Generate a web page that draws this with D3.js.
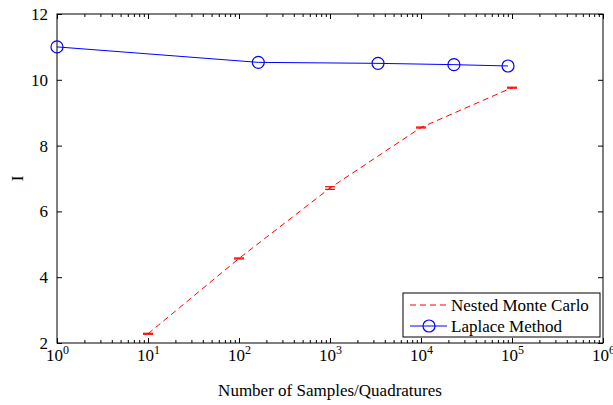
<!DOCTYPE html>
<html>
<head>
<meta charset="utf-8">
<script src="https://cdn.jsdelivr.net/npm/d3@7"></script>
<style>
  body { margin: 0; background: #fff; }
</style>
</head>
<body>
<div id="chart"></div>
<script>
// nested monte carlo (mean + small error)
const mcSamples = [10, 100, 1000, 10000, 100000]
const mcMean = [2.28, 4.57, 6.71, 8.55, 9.76]
const mcErr = [0.015, 0.015, 0.04, 0.015, 0.015]

// laplace method
const laSamples = [1, 163, 3370, 23000, 90400]
const laMean = [11.0, 10.53, 10.5, 10.46, 10.42]

const xMajorTicks = [1, 10, 100, 1000, 10000, 100000, 1000000]
const yTicks = [2, 4, 6, 8, 10, 12]

const seriesNames = ['Nested Monte Carlo', 'Laplace Method']

const serif = 'Tinos'

const margin = { top: 14, right: 10, bottom: 62, left: 57 }
const width = 613 - margin.left - margin.right
const height = 405 - margin.top - margin.bottom

const svg = d3
  .select('#chart')
  .append('svg')
  .attr('width', width + margin.left + margin.right)
  .attr('height', height + margin.top + margin.bottom)
  .style('font-family', serif)
  .append('g')
  .attr('transform', 'translate(' + margin.left + ',' + margin.top + ')')

const xPositionScale = d3.scaleLog().domain([1, 1e6]).range([0, width])
const yPositionScale = d3.scaleLinear().domain([2, 12]).range([height, 0])

// minor ticks 2..9 in each decade
const xMinorTicks = []
xMajorTicks.slice(0, -1).forEach(p => {
  d3.range(2, 10).forEach(m => xMinorTicks.push(m * p))
})

// AXES
svg
  .append('g')
  .attr('class', 'axis x-minor')
  .attr('transform', 'translate(0,' + height + ')')
  .call(d3.axisBottom(xPositionScale).tickValues(xMinorTicks).tickSize(-3).tickFormat(''))

svg
  .append('g')
  .attr('class', 'axis x-minor-top')
  .call(d3.axisTop(xPositionScale).tickValues(xMinorTicks).tickSize(-3).tickFormat(''))

svg
  .append('g')
  .attr('class', 'axis x-axis')
  .attr('transform', 'translate(0,' + height + ')')
  .call(
    d3.axisBottom(xPositionScale)
      .tickValues(xMajorTicks)
      .tickSize(-5)
      .tickPadding(6)
      .tickFormat(d => Math.round(Math.log10(d)))
  )

svg
  .append('g')
  .attr('class', 'axis x-axis-top')
  .call(d3.axisTop(xPositionScale).tickValues(xMajorTicks).tickSize(-5).tickFormat(''))

svg
  .append('g')
  .attr('class', 'axis y-axis')
  .call(d3.axisLeft(yPositionScale).tickValues(yTicks).tickSize(-5).tickPadding(9))

svg
  .append('g')
  .attr('class', 'axis y-axis-right')
  .attr('transform', 'translate(' + width + ',0)')
  .call(d3.axisRight(yPositionScale).tickValues(yTicks).tickSize(-5).tickFormat(''))

svg.selectAll('.axis')
  .attr('font-family', null)
  .attr('font-size', null)
svg.selectAll('.axis .domain').remove()
svg.selectAll('.axis line').attr('stroke', '#000')
svg.selectAll('.axis text')
  .attr('font-size', 17)
  .style('font-family', serif)
  .attr('fill', '#000')

// 10^n labels
svg.selectAll('.x-axis .tick text').each(function (d) {
  const t = d3.select(this)
  const exp = t.text()
  t.text(null)
  t.append('tspan').text('10')
  t.append('tspan').attr('dy', -7).attr('font-size', 12).text(exp)
})

svg
  .append('rect')
  .attr('x', 0)
  .attr('y', 0)
  .attr('width', width)
  .attr('height', height)
  .attr('fill', 'none')
  .attr('stroke', '#000')
  .attr('stroke-width', 1)

// NESTED MONTE CARLO
const mcData = mcSamples.map((n, i) => ({ n: n, mean: mcMean[i], err: mcErr[i] }))

svg
  .append('path')
  .datum(mcData)
  .attr('fill', 'none')
  .attr('stroke', '#ff0000')
  .attr('stroke-width', 1)
  .attr('stroke-dasharray', '6,4')
  .attr('d', d3.line().x(d => xPositionScale(d.n)).y(d => yPositionScale(d.mean)))

const bars = svg.selectAll('.errbar')
  .data(mcData)
  .enter()
  .append('g')
  .attr('class', 'errbar')
  .attr('stroke', '#ff0000')
  .attr('stroke-width', 1.2)

bars.append('line')
  .attr('x1', d => xPositionScale(d.n))
  .attr('x2', d => xPositionScale(d.n))
  .attr('y1', d => yPositionScale(d.mean - d.err))
  .attr('y2', d => yPositionScale(d.mean + d.err))

bars.append('line')
  .attr('x1', d => xPositionScale(d.n) - 5)
  .attr('x2', d => xPositionScale(d.n) + 5)
  .attr('y1', d => yPositionScale(d.mean - d.err))
  .attr('y2', d => yPositionScale(d.mean - d.err))

bars.append('line')
  .attr('x1', d => xPositionScale(d.n) - 5)
  .attr('x2', d => xPositionScale(d.n) + 5)
  .attr('y1', d => yPositionScale(d.mean + d.err))
  .attr('y2', d => yPositionScale(d.mean + d.err))

// LAPLACE
const laData = laSamples.map((n, i) => ({ n: n, mean: laMean[i] }))

svg
  .append('path')
  .datum(laData)
  .attr('fill', 'none')
  .attr('stroke', '#0000ff')
  .attr('stroke-width', 1)
  .attr('d', d3.line().x(d => xPositionScale(d.n)).y(d => yPositionScale(d.mean)))

svg.selectAll('.la-point')
  .data(laData)
  .enter()
  .append('circle')
  .attr('class', 'la-point')
  .attr('r', 6)
  .attr('fill', 'none')
  .attr('stroke', '#0000ff')
  .attr('stroke-width', 1.2)
  .attr('cx', d => xPositionScale(d.n))
  .attr('cy', d => yPositionScale(d.mean))

// AXIS TITLES
svg
  .append('text')
  .attr('font-size', 17)
  .style('font-family', serif)
  .attr('text-anchor', 'middle')
  .attr('x', width / 2)
  .attr('y', height + 53)
  .text('Number of Samples/Quadratures')

svg
  .append('text')
  .attr('font-size', 17)
  .style('font-family', serif)
  .attr('text-anchor', 'middle')
  .attr('transform', 'translate(-34,' + height / 2 + ') rotate(-90)')
  .text('I')

// LEGEND
const legend = svg.append('g').attr('transform', 'translate(346,279)')

legend
  .append('rect')
  .attr('width', 197)
  .attr('height', 44)
  .attr('fill', '#fff')
  .attr('stroke', '#000')
  .attr('stroke-width', 1)

legend
  .append('line')
  .attr('x1', 7)
  .attr('x2', 44)
  .attr('y1', 12)
  .attr('y2', 12)
  .attr('stroke', '#ff0000')
  .attr('stroke-dasharray', '6,4')

legend
  .append('line')
  .attr('x1', 7)
  .attr('x2', 44)
  .attr('y1', 33)
  .attr('y2', 33)
  .attr('stroke', '#0000ff')

legend
  .append('circle')
  .attr('cx', 26)
  .attr('cy', 33)
  .attr('r', 6)
  .attr('fill', 'none')
  .attr('stroke', '#0000ff')
  .attr('stroke-width', 1.2)

legend.selectAll('.legend-label')
  .data(seriesNames)
  .enter()
  .append('text')
  .attr('class', 'legend-label')
  .attr('font-size', 17)
  .style('font-family', serif)
  .attr('x', 48)
  .attr('y', (d, i) => 18 + i * 21)
  .text(d => d)
</script>
</body>
</html>
